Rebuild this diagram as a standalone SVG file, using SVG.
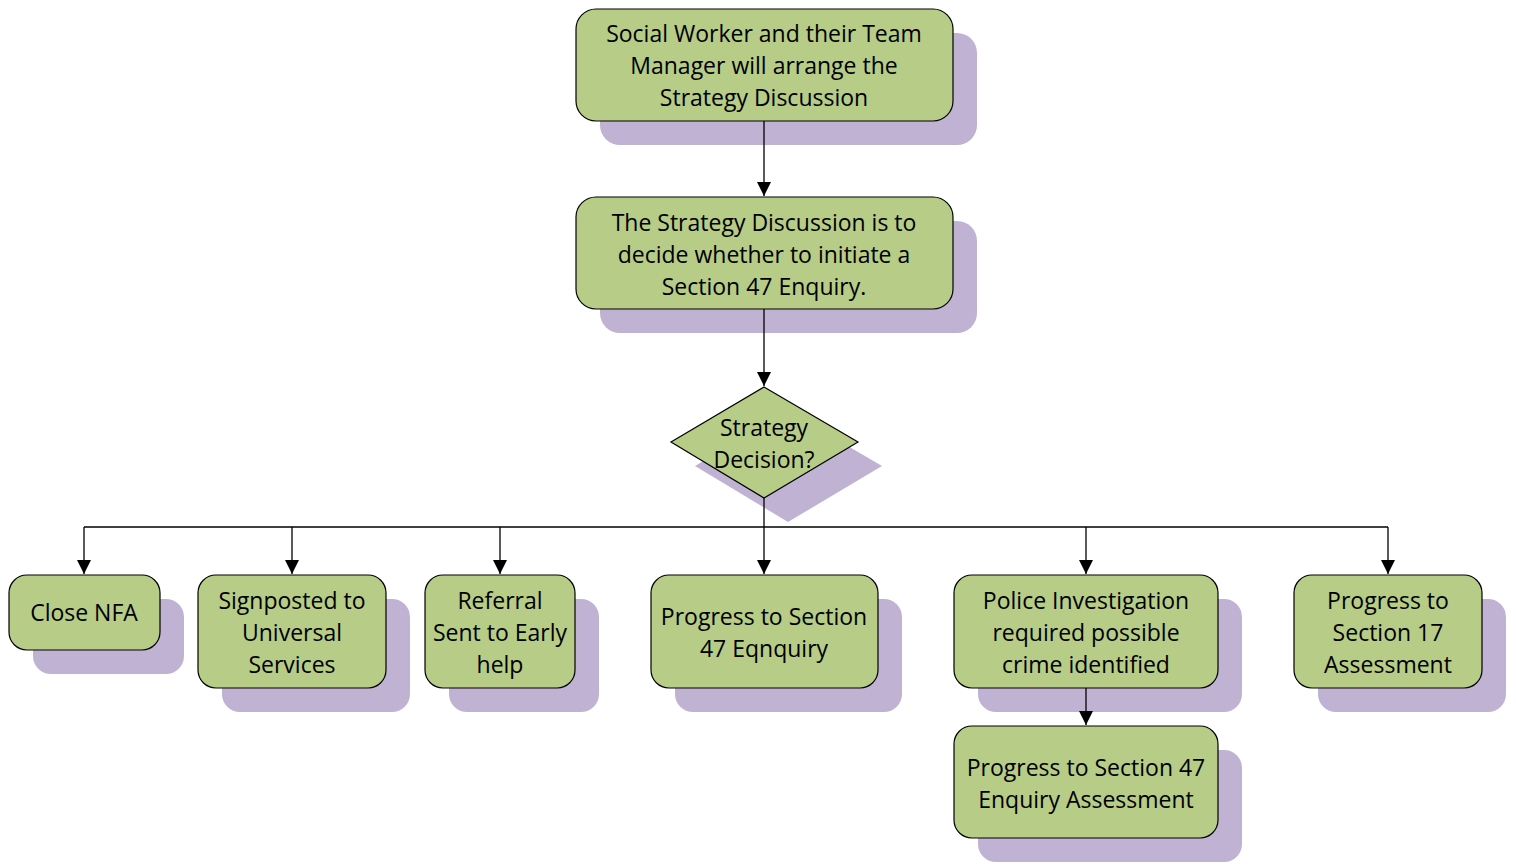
<svg xmlns="http://www.w3.org/2000/svg" width="1516" height="864" viewBox="0 0 1516 864">
<defs>
<style>
.sh{fill:#c0b2d3;stroke:none}
.bx{fill:#b6cc87;stroke:#000;stroke-width:1.2}
.t{font-family:"Open Sans","Liberation Sans",sans-serif;font-size:23px;fill:#000;text-anchor:middle;dominant-baseline:central}
.ln{fill:none;stroke:#000;stroke-width:1.3}
</style>
<marker id="ah" viewBox="0 0 14 14" refX="14" refY="7" markerWidth="14" markerHeight="14" markerUnits="userSpaceOnUse" orient="auto">
<path d="M0,0 L14,7 L0,14 Z" fill="#000"/>
</marker>
</defs>
<rect width="1516" height="864" fill="#fff"/>
<g id="n1">
<rect class="sh" x="600" y="33" width="377" height="112" rx="20"/>
<rect class="bx" x="576" y="9" width="377" height="112" rx="20"/>
<text class="t" x="764" y="33">Social Worker and their Team</text>
<text class="t" x="764" y="65">Manager will arrange the</text>
<text class="t" x="764" y="97">Strategy Discussion</text>
</g>
<g id="n2">
<rect class="sh" x="600" y="221" width="377" height="112" rx="20"/>
<rect class="bx" x="576" y="197" width="377" height="112" rx="20"/>
<text class="t" x="764" y="222">The Strategy Discussion is to</text>
<text class="t" x="764" y="254">decide whether to initiate a</text>
<text class="t" x="764" y="286">Section 47 Enquiry.</text>
</g>
<g id="n3">
<path class="sh" d="M788,411 L882,466 L788,522 L695,466 Z"/>
<path class="bx" d="M764,387 L858,442 L764,498 L671,442 Z"/>
<text class="t" x="764" y="427">Strategy</text>
<text class="t" x="764" y="459">Decision?</text>
</g>
<g id="n4">
<rect class="sh" x="33" y="599" width="151" height="75" rx="18"/>
<rect class="bx" x="9" y="575" width="151" height="75" rx="18"/>
<text class="t" x="84" y="612">Close NFA</text>
</g>
<g id="n5">
<rect class="sh" x="222" y="599" width="188" height="113" rx="18"/>
<rect class="bx" x="198" y="575" width="188" height="113" rx="18"/>
<text class="t" x="292" y="600">Signposted to</text>
<text class="t" x="292" y="632">Universal</text>
<text class="t" x="292" y="664">Services</text>
</g>
<g id="n6">
<rect class="sh" x="449" y="599" width="150" height="113" rx="18"/>
<rect class="bx" x="425" y="575" width="150" height="113" rx="18"/>
<text class="t" x="500" y="600">Referral</text>
<text class="t" x="500" y="632">Sent to Early</text>
<text class="t" x="500" y="664">help</text>
</g>
<g id="n7">
<rect class="sh" x="675" y="599" width="227" height="113" rx="18"/>
<rect class="bx" x="651" y="575" width="227" height="113" rx="18"/>
<text class="t" x="764" y="616">Progress to Section</text>
<text class="t" x="764" y="648">47 Eqnquiry</text>
</g>
<g id="n8">
<rect class="sh" x="978" y="599" width="264" height="113" rx="18"/>
<rect class="bx" x="954" y="575" width="264" height="113" rx="18"/>
<text class="t" x="1086" y="600">Police Investigation</text>
<text class="t" x="1086" y="632">required possible</text>
<text class="t" x="1086" y="664">crime identified</text>
</g>
<g id="n9">
<rect class="sh" x="1318" y="599" width="188" height="113" rx="18"/>
<rect class="bx" x="1294" y="575" width="188" height="113" rx="18"/>
<text class="t" x="1388" y="600">Progress to</text>
<text class="t" x="1388" y="632">Section 17</text>
<text class="t" x="1388" y="664">Assessment</text>
</g>
<g id="n10">
<rect class="sh" x="978" y="750" width="264" height="112" rx="18"/>
<rect class="bx" x="954" y="726" width="264" height="112" rx="18"/>
<text class="t" x="1086" y="767">Progress to Section 47</text>
<text class="t" x="1086" y="799">Enquiry Assessment</text>
</g>
<g id="connectors">
<path class="ln" d="M764,121 V196" marker-end="url(#ah)"/>
<path class="ln" d="M764,309 V386" marker-end="url(#ah)"/>
<path class="ln" d="M764,498 V574" marker-end="url(#ah)"/>
<path class="ln" d="M84,527 H1388"/>
<path class="ln" d="M84,527 V574" marker-end="url(#ah)"/>
<path class="ln" d="M292,527 V574" marker-end="url(#ah)"/>
<path class="ln" d="M500,527 V574" marker-end="url(#ah)"/>
<path class="ln" d="M1086,527 V574" marker-end="url(#ah)"/>
<path class="ln" d="M1388,527 V574" marker-end="url(#ah)"/>
<path class="ln" d="M1086,688 V725" marker-end="url(#ah)"/>
</g>
</svg>
